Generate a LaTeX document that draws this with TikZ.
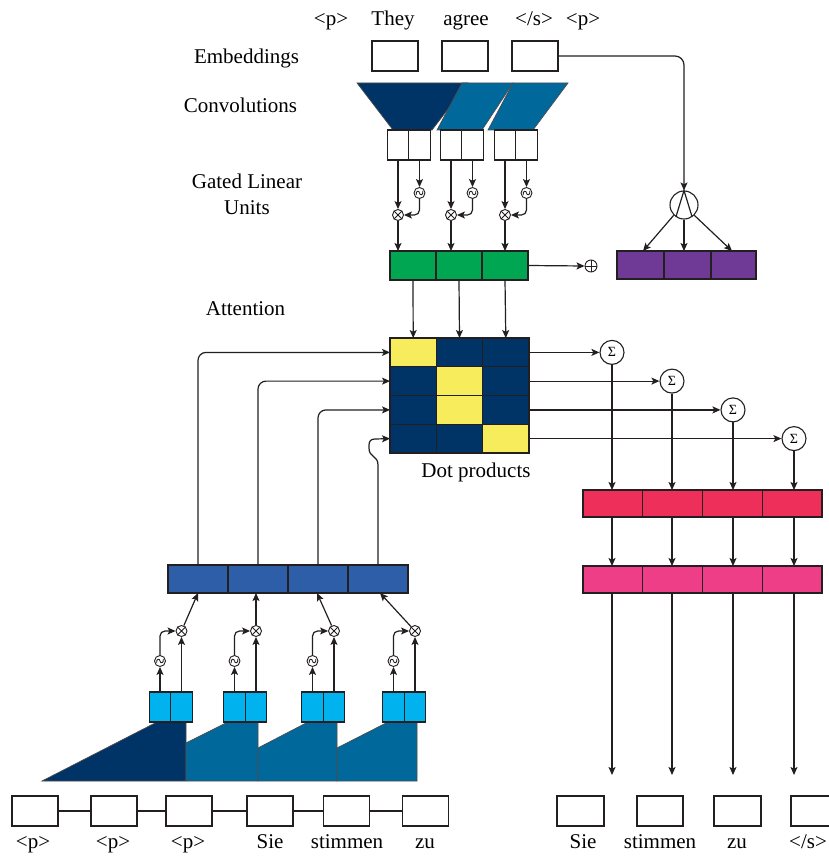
\documentclass[tikz,border=0pt]{standalone}
\usepackage{fontspec}
\setmainfont{Liberation Serif}
\usetikzlibrary{arrows.meta,calc}
\definecolor{linec}{HTML}{231F20}
\definecolor{navy}{HTML}{003366}
\definecolor{teal}{HTML}{00689B}
\definecolor{glugreen}{HTML}{00A651}
\definecolor{purp}{HTML}{6E3A96}
\definecolor{yel}{HTML}{F7EC5C}
\definecolor{encblue}{HTML}{2F5EA8}
\definecolor{lblue}{HTML}{00B3EE}
\definecolor{redc}{HTML}{EE2F5A}
\definecolor{pinkc}{HTML}{EE3E87}
\begin{document}
\begin{tikzpicture}[x=1pt,y=-1pt,
  ln/.style={draw=linec, line width=1.2pt},
  arr/.style={ln, -{Stealth[length=8pt,width=7pt,inset=1.8pt]}},
  wbox/.style={draw=linec, line width=1.2pt, fill=white, minimum width=46pt, minimum height=30pt, inner sep=0pt, outer sep=0pt},
  cell/.style={draw=linec, line width=1.3pt, inner sep=0pt, outer sep=0pt},
  opc/.style={circle, draw=linec, line width=0.9pt, fill=white, inner sep=0pt, minimum size=11pt},
  sig/.style={circle, draw=linec, line width=1.1pt, fill=white, inner sep=0pt, minimum size=24pt, font=\fontsize{14}{14}\selectfont},
  lbl/.style={font=\fontsize{21}{26}\selectfont, inner sep=0pt, anchor=base},
  shp/.style={draw=linec!80, line width=0.7pt}
]
\useasboundingbox[fill=white] (0,0) rectangle (829,856);

% ---------- labels ----------
\node[lbl] (tp1) at (331,26) {<p>};
\node[lbl] (tthey) at (393,26) {They};
\node[lbl] (tagree) at (466,26) {agree};
\node[lbl] (ts) at (534,26) {</s>};
\node[lbl] (tp2) at (583,26) {<p>};
\node[lbl] (lemb) at (246.5,64) {Embeddings};
\node[lbl] (lconv) at (240.5,113) {Convolutions};
\node[font=\fontsize{21}{26}\selectfont, inner sep=0pt, align=center] (lglu) at (247,194) {Gated Linear\\Units};
\node[lbl] (latt) at (245.5,315) {Attention};
\node[lbl] (ldot) at (476,477) {Dot products};

% ---------- embeddings ----------
\node[wbox] (e1) at (395,56) {};
\node[wbox] (e2) at (465,56) {};
\node[wbox] (e3) at (535,56) {};

% ---------- convolutions (top) ----------
\filldraw[shp, fill=navy] (357,83) -- (468,83) -- (432,130) -- (393,130) -- cycle;
\filldraw[shp, fill=teal] (462,83) -- (513,83) -- (482,130) -- (437,130) -- cycle;
\filldraw[shp, fill=teal] (513,83) -- (568,83) -- (533,130) -- (488,130) -- cycle;

\node[cell, fill=white, minimum width=21.5pt, minimum height=30pt] (c1a) at (398,145) {};
\node[cell, fill=white, minimum width=21.5pt, minimum height=30pt] (c1b) at (419.5,145) {};
\node[cell, fill=white, minimum width=21.5pt, minimum height=30pt] (c2a) at (451,145) {};
\node[cell, fill=white, minimum width=21.5pt, minimum height=30pt] (c2b) at (472.5,145) {};
\node[cell, fill=white, minimum width=21.5pt, minimum height=30pt] (c3a) at (505,145) {};
\node[cell, fill=white, minimum width=21.5pt, minimum height=30pt] (c3b) at (526.5,145) {};

% GLU ops (top)
\node[opc] (x1) at (398,215) {};
\node[opc] (s1) at (419.5,193) {};
\node[opc] (x2) at (451,215) {};
\node[opc] (s2) at (472.5,193) {};
\node[opc] (x3) at (505,215) {};
\node[opc] (s3) at (526.5,193) {};

% green row
\node[cell, fill=glugreen, minimum width=46pt, minimum height=29pt] (g1) at (413,265.5) {};
\node[cell, fill=glugreen, minimum width=46pt, minimum height=29pt] (g2) at (459,265.5) {};
\node[cell, fill=glugreen, minimum width=46pt, minimum height=29pt] (g3) at (505,265.5) {};

\foreach \i in {1,2,3}{
  \draw[arr] (c\i a.south) -- (x\i.north);
  \draw[arr] (c\i b.south) -- (s\i.north);
  \draw[arr, rounded corners=5] (s\i.south) |- (x\i.east);
  \draw[arr] (x\i.south) -- (x\i.south |- g1.north);
}

% plus
\node[opc, minimum size=12pt] (pl) at (591,266) {};
\draw[ln, line width=0.8pt] (pl.north) -- (pl.south) (pl.west) -- (pl.east);
\draw[arr] (g3.east) -- (pl.west);

% attention circle and purple row
\node[cell, fill=purp, minimum width=47pt, minimum height=28pt] (p1) at (640.5,265) {};
\node[cell, fill=purp, minimum width=47pt, minimum height=28pt] (p2) at (687.5,265) {};
\node[cell, fill=purp, minimum width=45pt, minimum height=28pt] (p3) at (733.5,265) {};
\node[circle, draw=linec, line width=1.1pt, inner sep=0pt, minimum size=28pt] (A) at (684,205) {};
\draw[ln] (A.-124) -- (A.north) -- (A.-56);
\draw[arr, rounded corners=9] (e3.east) -| (A.north);
\draw[arr] (A.-135) -- ($(p1.north)+(2.5,0)$);
\draw[arr] (A.south) -- (A.south |- p2.north);
\draw[arr] (A.-45) -- ($(p3.north)+(-1.5,0)$);

% ---------- attention matrix ----------
\foreach \r/\y/\ca/\cb/\cc in {0/352.4/yel/navy/navy, 1/381.1/navy/yel/navy, 2/409.9/navy/yel/navy, 3/438.6/navy/navy/yel}{
  \node[cell, fill=\ca, minimum width=46.33pt, minimum height=28.75pt] (m\r0) at (413.2,\y) {};
  \node[cell, fill=\cb, minimum width=46.33pt, minimum height=28.75pt] (m\r1) at (459.5,\y) {};
  \node[cell, fill=\cc, minimum width=46.33pt, minimum height=28.75pt] (m\r2) at (505.8,\y) {};
}
\draw[arr] (g1.south) -- (m00.north);
\draw[arr] (g2.south) -- (m01.north);
\draw[arr] (g3.south) -- (m02.north);

% sums
\node[sig] (S1) at (612,352.4) {Σ};
\node[sig] (S2) at (672,381.1) {Σ};
\node[sig] (S3) at (733,409.9) {Σ};
\node[sig] (S4) at (794,438.6) {Σ};
\draw[arr] (m02.east) -- (S1.west);
\draw[arr] (m12.east) -- (S2.west);
\draw[arr] (m22.east) -- (S3.west);
\draw[arr] (m32.east) -- (S4.west);

% red and pink rows
\node[cell, fill=redc, minimum width=59.75pt, minimum height=27pt] (r1) at (612.9,503.5) {};
\node[cell, fill=redc, minimum width=59.75pt, minimum height=27pt] (r2) at (672.6,503.5) {};
\node[cell, fill=redc, minimum width=59.75pt, minimum height=27pt] (r3) at (732.4,503.5) {};
\node[cell, fill=redc, minimum width=59.75pt, minimum height=27pt] (r4) at (792.1,503.5) {};
\node[cell, fill=pinkc, minimum width=59.75pt, minimum height=27pt] (k1) at (612.9,579.5) {};
\node[cell, fill=pinkc, minimum width=59.75pt, minimum height=27pt] (k2) at (672.6,579.5) {};
\node[cell, fill=pinkc, minimum width=59.75pt, minimum height=27pt] (k3) at (732.4,579.5) {};
\node[cell, fill=pinkc, minimum width=59.75pt, minimum height=27pt] (k4) at (792.1,579.5) {};
\coordinate (o1) at (612,775);
\coordinate (o2) at (672,775);
\coordinate (o3) at (733,775);
\coordinate (o4) at (794,775);
\foreach \i in {1,2,3,4}{
  \draw[arr] (S\i.south) -- (S\i.south |- r\i.north);
  \draw[arr] (S\i |- r\i.south) -- (S\i |- k\i.north);
  \draw[arr] (S\i |- k\i.south) -- (o\i);
}

% output boxes
\node[wbox, minimum width=47pt] (ob1) at (580.5,811) {};
\node[wbox, minimum width=46pt] (ob2) at (660,811) {};
\node[wbox, minimum width=47pt] (ob3) at (737.5,811) {};
\node[wbox, minimum width=47pt] (ob4) at (814.5,811) {};
\node[lbl] (os1) at (583,848) {Sie};
\node[lbl] (os2) at (660,848) {stimmen};
\node[lbl] (os3) at (737,848) {zu};
\node[lbl] (os4) at (808,848) {</s>};

% ---------- encoder (bottom left) ----------
\node[wbox] (ib1) at (35,811) {};
\node[wbox] (ib2) at (114,811) {};
\node[wbox] (ib3) at (189,811) {};
\node[wbox] (ib4) at (270,811) {};
\node[wbox] (ib5) at (346.5,811) {};
\node[wbox] (ib6) at (425.5,811) {};
\draw[ln] (ib1.east) -- (ib2.west);
\draw[ln] (ib2.east) -- (ib3.west);
\draw[ln] (ib3.east) -- (ib4.west);
\draw[ln] (ib4.east) -- (ib5.west);
\draw[ln] (ib5.east) -- (ib6.west);
\node[lbl] (is1) at (33,848) {<p>};
\node[lbl] (is2) at (113,848) {<p>};
\node[lbl] (is3) at (188,848) {<p>};
\node[lbl] (is4) at (270,848) {Sie};
\node[lbl] (is5) at (347,848) {stimmen};
\node[lbl] (is6) at (425,848) {zu};

% conv shapes bottom
\filldraw[shp, fill=navy] (42,781) -- (157,722) -- (186,722) -- (186,781) -- cycle;
\filldraw[shp, fill=teal] (186,743) -- (228,722) -- (258,722) -- (258,781) -- (186,781) -- cycle;
\filldraw[shp, fill=teal] (258,748) -- (308,722) -- (337,722) -- (337,781) -- (258,781) -- cycle;
\filldraw[shp, fill=teal] (337,748) -- (388,722) -- (417,722) -- (417,781) -- (337,781) -- cycle;

% light blue cells
\node[cell, fill=lblue, minimum width=21.5pt, minimum height=30pt] (L1a) at (160,707) {};
\node[cell, fill=lblue, minimum width=21.5pt, minimum height=30pt] (L1b) at (181.5,707) {};
\node[cell, fill=lblue, minimum width=21.5pt, minimum height=30pt] (L2a) at (234.5,707) {};
\node[cell, fill=lblue, minimum width=21.5pt, minimum height=30pt] (L2b) at (256,707) {};
\node[cell, fill=lblue, minimum width=21.5pt, minimum height=30pt] (L3a) at (312.5,707) {};
\node[cell, fill=lblue, minimum width=21.5pt, minimum height=30pt] (L3b) at (334,707) {};
\node[cell, fill=lblue, minimum width=21.5pt, minimum height=30pt] (L4a) at (393.5,707) {};
\node[cell, fill=lblue, minimum width=21.5pt, minimum height=30pt] (L4b) at (415,707) {};

% encoder blue row
\node[cell, fill=encblue, minimum width=60pt, minimum height=28pt] (b1) at (198,579) {};
\node[cell, fill=encblue, minimum width=60pt, minimum height=28pt] (b2) at (258,579) {};
\node[cell, fill=encblue, minimum width=60pt, minimum height=28pt] (b3) at (318,579) {};
\node[cell, fill=encblue, minimum width=60pt, minimum height=28pt] (b4) at (378,579) {};

% gates bottom
\node[opc] (w1) at (160,661) {};
\node[opc] (w2) at (234.5,661) {};
\node[opc] (w3) at (312.5,661) {};
\node[opc] (w4) at (393.5,661) {};
\node[opc] (X1) at (181.5,631) {};
\node[opc] (X2) at (256,631) {};
\node[opc] (X3) at (334,631) {};
\node[opc] (X4) at (415,631) {};
\foreach \i in {1,2,3,4}{
  \draw[arr] (L\i a.north) -- (w\i.south);
  \draw[arr] (L\i b.north) -- (X\i.south);
  \draw[arr, rounded corners=5] (w\i.north) |- (X\i.west);
}
\draw[arr] (X1) -- (b1.south);
\draw[arr] (X2) -- (X2 |- b2.south);
\draw[arr] (X3) -- ($(b3.south)+(-1,0)$);
\draw[arr] (X4) -- ($(b4.south)+(2,0)$);

% symbols in small circles
\foreach \n in {x1,x2,x3,X1,X2,X3,X4}{
  \draw[ln, line width=0.8pt] (\n.north east) -- (\n.south west) (\n.north west) -- (\n.south east);
}
\foreach \n in {s1,s2,s3,w1,w2,w3,w4}{
  \draw[ln, line width=0.8pt] ($(\n)+(-3.2,2.2)$) .. controls ($(\n)+(-4.2,-2.8)$) and ($(\n)+(0,-2.6)$) .. (\n.center) .. controls ($(\n)+(0,2.6)$) and ($(\n)+(4.2,2.8)$) .. ($(\n)+(3.2,-2.2)$);
}

% encoder outputs to attention
\draw[arr, rounded corners=8] (b1.north) |- (m00.west);
\draw[arr, rounded corners=8] (b2.north) |- (m10.west);
\draw[arr, rounded corners=8] (b3.north) |- (m20.west);
\draw[arr] (b4.north) -- (378,465) .. controls (378,455) and (369,458) .. (369,448) -- (369,445) .. controls (369,441) and (371,439) .. (375,439) -- (m30.west);
\end{tikzpicture}
\end{document}
